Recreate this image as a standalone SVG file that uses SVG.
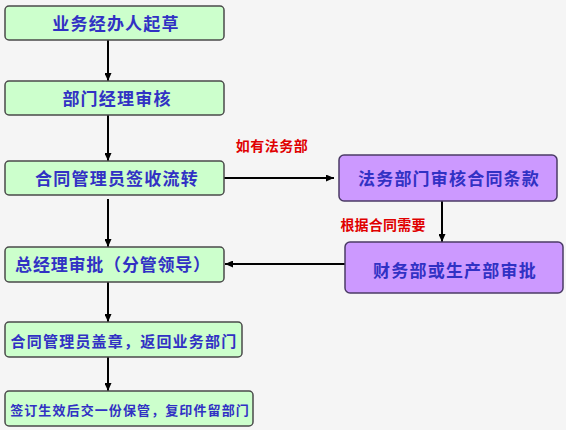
<svg xmlns="http://www.w3.org/2000/svg" width="566" height="430" viewBox="0 0 566 430">
<style>
.g{fill:#ccffcc;stroke:#4a4a4a;stroke-width:1.5}
.p{fill:#cc99ff;stroke:#4b3b66;stroke-width:1.5}
.t{font-family:"Noto Sans CJK SC","Noto Sans",sans-serif;font-weight:bold;fill:#3131c4;text-anchor:middle}
.r{font-family:"Noto Sans CJK SC","Noto Sans",sans-serif;font-weight:bold;fill:#e00000;font-size:14px;text-anchor:middle}
.c{stroke:#000;stroke-width:2;fill:none;marker-end:url(#ah)}
</style>
<defs>
<marker id="ah" markerUnits="userSpaceOnUse" markerWidth="8" markerHeight="7" refX="8" refY="3.5" orient="auto">
<path d="M0,0 L8,3.5 L0,7 z" fill="#000"/>
</marker>
</defs>
<rect width="566" height="430" fill="#f5f5f5"/>
<g id="connectors">
<line class="c" x1="108" y1="40" x2="108" y2="81"/>
<line class="c" x1="108" y1="115" x2="108" y2="161"/>
<line class="c" x1="224" y1="178" x2="334" y2="178"/>
<line class="c" x1="108" y1="199" x2="108" y2="247"/>
<line class="c" x1="442" y1="201" x2="442" y2="242"/>
<line class="c" x1="345" y1="264" x2="225" y2="264"/>
<line class="c" x1="108" y1="282" x2="108" y2="322"/>
<line class="c" x1="108" y1="357" x2="108" y2="391"/>
<text class="r" x="272" y="151" letter-spacing="0.5">如有法务部</text>
<text class="r" x="383" y="230" letter-spacing="0.2">根据合同需要</text>
</g>
<g id="n1"><rect class="g" x="5" y="6" width="219" height="34" rx="4"/><text class="t" x="116" y="29.5" font-size="17" letter-spacing="1.2">业务经办人起草</text></g>
<g id="n2"><rect class="g" x="5" y="81" width="219" height="34" rx="4"/><text class="t" x="117" y="104.5" font-size="17" letter-spacing="1.2">部门经理审核</text></g>
<g id="n3"><rect class="g" x="5" y="161" width="219" height="34" rx="4"/><text class="t" x="117" y="184.5" font-size="17" letter-spacing="1.2">合同管理员签收流转</text></g>
<g id="n4"><rect class="p" x="339" y="155" width="218" height="46" rx="5"/><text class="t" x="449" y="184.5" font-size="17" letter-spacing="1.2">法务部门审核合同条款</text></g>
<g id="n5"><rect class="g" x="5" y="247" width="219" height="35" rx="4"/><text class="t" x="113" y="271" font-size="17" letter-spacing="0.8">总经理审批（分管领导）</text></g>
<g id="n6"><rect class="p" x="345" y="242" width="218" height="51" rx="5"/><text class="t" x="455" y="276.5" font-size="17" letter-spacing="1.2">财务部或生产部审批</text></g>
<g id="n7"><rect class="g" x="5" y="322" width="237" height="35" rx="4"/><text class="t" x="124" y="346.5" font-size="15" letter-spacing="1.2">合同管理员盖章，返回业务部门</text></g>
<g id="n8"><rect class="g" x="5" y="391" width="248" height="35" rx="4"/><text class="t" x="130" y="415" font-size="13" letter-spacing="1.1">签订生效后交一份保管，复印件留部门</text></g>
</svg>
